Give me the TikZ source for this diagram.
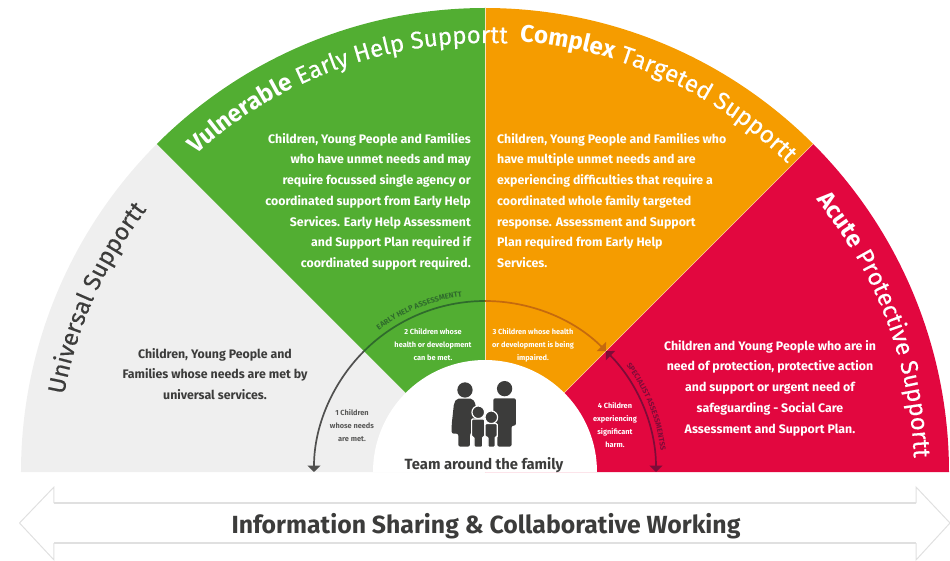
\documentclass[tikz,border=0pt]{standalone}
\usepackage{fontspec}
\setmainfont{Fira Sans}
\newfontface\headmedium{Fira Sans}[FakeBold=0.35]
\usetikzlibrary{arrows.meta,decorations.text}
\definecolor{segGrey}{HTML}{EFEFEF}
\definecolor{segGreen}{HTML}{52AE32}
\definecolor{segOrange}{HTML}{F59C00}
\definecolor{segRed}{HTML}{E2073F}
\definecolor{inkDark}{HTML}{3C3C3B}
\definecolor{arcGreen}{HTML}{2F6B2C}
\definecolor{arcOrange}{HTML}{C56A0E}
\definecolor{arcRed}{HTML}{7D0C38}
\definecolor{bandGrey}{HTML}{E0E0E0}
\newcommand{\headreg}{\fontsize{24}{24}\headmedium}
\newcommand{\headbold}{\fontsize{24}{24}\selectfont\bfseries}
\newcommand{\arclabel}{\fontsize{7.5}{7.5}\selectfont\bfseries}
\tikzset{
	bodytext/.style={inner sep=0, font=\fontsize{12.35}{20.7}\selectfont\bfseries, text=white},
	smalltext/.style={inner sep=0, align=center, font=\fontsize{7.4}{13}\selectfont\bfseries, text=white},
	arcline/.style={line width=1.7},
	tipend/.style={-{Triangle[width=13,length=6.5]}},
	tipboth/.style={{Triangle[width=13,length=6.5]}-{Triangle[width=13,length=6.5]}},
	member/.style={fill=inkDark, draw=white, line width=1.2, rounded corners=1.2}
}
\begin{document}
\begin{tikzpicture}[x=1pt, y=1pt]
	%%%%% START %%%%%
	\useasboundingbox (-485, -88) rectangle (465, 472);

	\fill[segGrey] (0, 0) -- (-464, 0) arc (180:135:464) -- cycle;
	\fill[segGreen] (0, 0) -- (135:464) arc (135:90:464) -- cycle;
	\fill[segOrange] (0, 0) -- (90:464) arc (90:45:464) -- cycle;
	\fill[segRed] (0, 0) -- (45:464) arc (45:0:464) -- cycle;
	\draw[line width=0.5, color=white!70!segOrange] (0, 112) -- (0, 464);
	\draw[line width=0.5, color=white!60!segOrange] (45:112) -- (45:464);
	\fill[white] (112, 0) arc (0:180:112) -- cycle;

	\path[decorate, decoration={text along path, text color=white, text align=left,
		text={|\headbold|Vulnerable|||\headreg| Early Help Support||}}] (132.3:429) arc (132.3:80:429);
	\path[decorate, decoration={text along path, text color=white, text align=left,
		text={|\headbold|Complex|||\headreg| Targeted Support||}}] (85.4:432) arc (85.4:35:432);
	\path[decorate, decoration={text along path, text color=white, text align=left,
		text={|\headbold|Acute|||\headreg| Protective Support||}}] (39.5:429) arc (39.5:-10:429);
	\path[decorate, decoration={text along path, text color=inkDark, text align=left,
		text={|\headreg|Universal Support||}}] (169.6:428) arc (169.6:130:428);

	\node[bodytext, align=right, anchor=north east] (vulnerabletext) at (-14, 339) {Children, Young People and Families\\who have unmet needs and may\\require focussed single agency or\\coordinated support from Early Help\\Services. Early Help Assessment\\and Support Plan required if\\coordinated support required.};
	\node[bodytext, align=left, anchor=north west] (complextext) at (12, 339) {Children, Young People and Families who\\have multiple unmet needs and are\\experiencing difficulties that require a\\coordinated whole family targeted\\response. Assessment and Support\\Plan required from Early Help\\Services.};
	\node[bodytext, align=center, anchor=north] (acutetext) at (285, 132) {Children and Young People who are in\\need of protection, protective action\\and support or urgent need of\\safeguarding - Social Care\\Assessment and Support Plan.};
	\node[bodytext, align=center, anchor=north, text=inkDark] (universaltext) at (-270, 124) {Children, Young People and\\Families whose needs are met by\\universal services.};

	\node[smalltext, text=inkDark!85, anchor=north] (levelone) at (-133, 63) {1 Children\\whose needs\\are met.};
	\node[smalltext, anchor=north] (leveltwo) at (-52, 144) {2 Children whose\\health or development\\can be met.};
	\node[smalltext, anchor=north] (levelthree) at (48, 144) {3 Children whose health\\or development is being\\impaired.};
	\node[smalltext, anchor=north] (levelfour) at (130, 70) {4 Children\\experiencing\\significant\\harm.};

	\draw[arcline, tipend, color=inkDark!90] (135:171) arc (135:180:171);
	\draw[arcline, color=arcGreen] (90:171) arc (90:135:171);
	\draw[arcline, tipend, color=arcOrange] (90:171) arc (90:45:171);
	\draw[arcline, tipboth, color=arcRed] (45:171) arc (45:0:171);

	\path[decorate, decoration={text along path, text color=arcGreen, text align=left,
		text={|\arclabel|EARLY HELP ASSESSMENT||}}] (126.8:177) arc (126.8:70:177);
	\path[decorate, decoration={text along path, text color=arcRed, text align=left,
		text={|\arclabel|SPECIALIST ASSESSMENTS||}}] (37:177) arc (37:-20:177);

	% family
	\begin{scope}[shift={(-45, 97)}, xscale=0.333, yscale=-0.333]
		\fill[inkDark] (75, 45) circle (23);
		\fill[inkDark] (194, 41) circle (23);
		\fill[inkDark, rounded corners=2] (50, 71) -- (98, 71) -- (108, 90) -- (108, 150) -- (90, 176) -- (90, 215) -- (55, 215) -- (55, 176) -- (35, 176) -- (35, 150) -- (42, 85) -- cycle;
		\fill[inkDark, rounded corners=2] (160, 70) -- (228, 70) -- (228, 152) -- (215, 152) -- (215, 215) -- (172, 215) -- (172, 152) -- (160, 152) -- cycle;
		\draw[member] (115, 112) circle (19);
		\draw[member] (154, 127) circle (19);
		\draw[member] (95, 132) -- (134, 132) -- (134, 186) -- (128, 186) -- (128, 217) -- (102, 217) -- (102, 186) -- (95, 186) -- cycle;
		\draw[member] (135, 146) -- (172, 146) -- (172, 186) -- (166, 186) -- (166, 217) -- (144, 217) -- (144, 186) -- (135, 186) -- cycle;
	\end{scope}
	\node[inner sep=0, font=\fontsize{14.8}{14.8}\selectfont\bfseries, text=inkDark] (teamlabel) at (-1, 7) {Team around the family};

	% band
	\draw[line width=2, color=bandGrey] (-431, -31) -- (431, -31);
	\draw[line width=2, color=bandGrey] (-431, -71) -- (431, -71);
	\draw[line width=1, color=bandGrey] (-431, -31) -- (-431, -15) -- (-465.5, -51) -- (-431, -88) -- (-431, -71);
	\draw[line width=1, color=bandGrey] (431, -31) -- (431, -15) -- (465, -51) -- (431, -88) -- (431, -71);
	\node[inner sep=0, font=\fontsize{24.8}{24.8}\selectfont\bfseries, text=inkDark] (bandlabel) at (1, -54) {Information Sharing \& Collaborative Working};
	%%%%% END %%%%%
\end{tikzpicture}
\end{document}
